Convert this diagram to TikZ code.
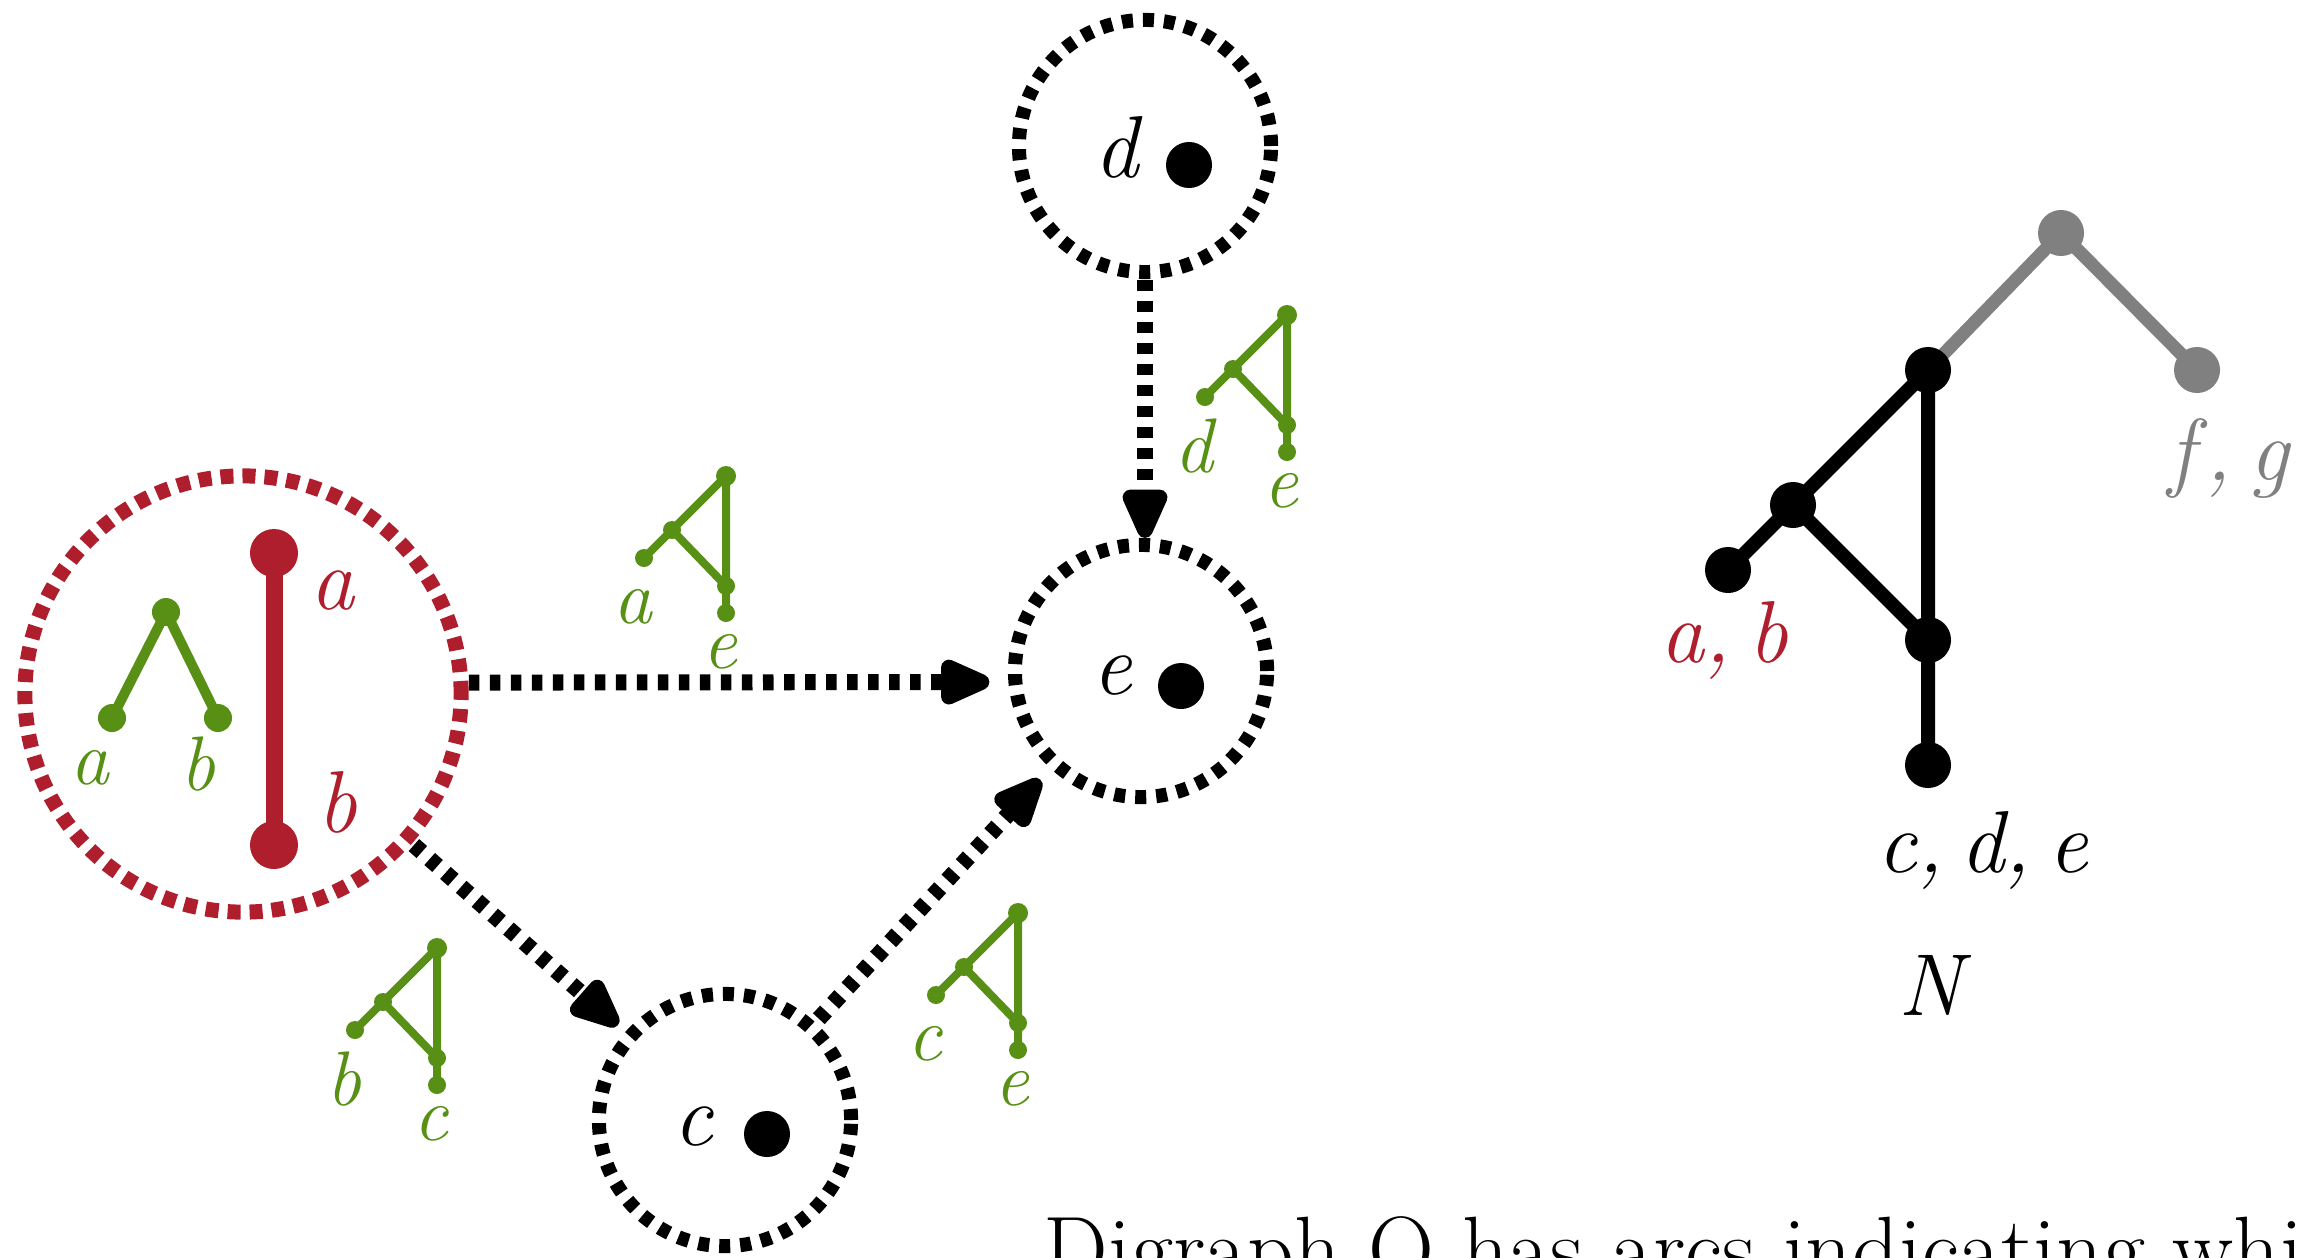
\documentclass[tikz,border=0pt]{standalone}
\usepackage{fontspec}
\usetikzlibrary{arrows.meta}
\definecolor{redc}{RGB}{174,30,45}
\definecolor{greenc}{RGB}{87,144,20}
\definecolor{grayc}{RGB}{128,128,128}

\tikzset{
  big/.style={font=\fontsize{25}{30}\selectfont\itshape, inner sep=0pt},
  small/.style={font=\fontsize{22}{26}\selectfont\itshape, inner sep=0pt, text=greenc},
  ring/.style={circle, draw=black, line width=0.14cm, dash pattern=on 0.11cm off 0.10cm,
    minimum size=2.52cm, inner sep=0pt, outer sep=0pt},
  redring/.style={ring, draw=redc, line width=0.15cm, dash pattern=on 0.13cm off 0.09cm,
    minimum size=4.36cm},
  blob/.style={circle, fill=black, inner sep=0pt, outer sep=0pt, minimum size=0.46cm},
  gdot/.style={circle, fill=greenc, inner sep=0pt, outer sep=0pt, minimum size=0.18cm},
  gline/.style={draw=greenc, line width=0.08cm},
  flow/.style={line width=0.16cm, dash pattern=on 0.105cm off 0.105cm,
    -{Triangle[length=0.62cm,width=0.48cm,round]}},
  pics/gtree/.style 2 args={code={
    \coordinate (-r) at (0,0);
    \coordinate (-m) at (-54,54);
    \coordinate (-l) at (-82,82);
    \coordinate (-v) at (0,110);
    \coordinate (-b) at (0,137);
    \draw[gline] (-l) -- (-m) -- (-r) -- (-v) -- (-b) (-m) -- (-v);
    \node[gdot, minimum size=0.2cm] (-rd) at (-r) {};
    \node[gdot] (-md) at (-m) {};
    \node[gdot] (-ld) at (-l) {};
    \node[gdot] (-vd) at (-v) {};
    \node[gdot] (-bd) at (-b) {};
    \node[small] (-ll) at (-93,131) {#1};
    \node[small] (-bl) at (-6,176) {#2};
  }}
}
\newcommand{\lsep}{,\kern0.2em}

\begin{document}
\begin{tikzpicture}[x=0.01cm,y=-0.01cm]
\clip (0,0) rectangle (2307,1257);

% the merged cluster {a,b}
\node[redring] (ab) at (243,694) {};
\coordinate (ra) at (274,553);
\coordinate (rb) at (274,845);
\draw[redc, line width=0.17cm] (ra) -- (rb);
\node[blob, fill=redc, minimum size=0.48cm] (rad) at (ra) {};
\node[blob, fill=redc, minimum size=0.48cm] (rbd) at (rb) {};
\node[big, text=redc] (ral) at (332,591) {a};
\node[big, text=redc] (rbl) at (337,802) {b};
\coordinate (gr) at (166,612);
\coordinate (ga) at (112,718);
\coordinate (gb) at (218,718);
\draw[gline, line width=0.1cm] (ga) -- (gr) -- (gb);
\node[gdot, minimum size=0.28cm] (grd) at (gr) {};
\node[gdot, minimum size=0.28cm] (gad) at (ga) {};
\node[gdot, minimum size=0.28cm] (gbd) at (gb) {};
\node[small] (gal) at (90,768) {a};
\node[small] (gbl) at (198,764) {b};

% singleton vertices
\node[ring] (d) at (1145,146) {};
\node[big] (dl) at (1116,147) {d};
\node[blob] (dd) at (1189,165) {};

\node[ring] (e) at (1141,671) {};
\node[big] (el) at (1112,676) {e};
\node[blob] (ed) at (1181,686) {};

\node[ring] (c) at (725,1120) {};
\node[big] (cl) at (693,1127) {c};
\node[blob] (cd) at (767,1134) {};

% arcs of the digraph
\draw[flow, shorten <=0.08cm, shorten >=0.26cm] (ab.3) -- (e.185);
\draw[flow, shorten <=0.08cm, shorten >=0.07cm] (d.south) -- (d.south |- e.north);
\draw[flow, shorten <=0.1cm, shorten >=0.17cm] (ab) -- (c);
\draw[flow, shorten <=0.12cm, shorten >=0.22cm] (c) -- (e);

% displayed subtrees on the arcs
\pic (tae) at (726,476) {gtree={a}{e}};
\pic (tde) at (1287,315) {gtree={d}{e}};
\pic (tbc) at (437,948) {gtree={b}{c}};
\pic (tce) at (1018,913) {gtree={c}{e}};

% network N
\coordinate (nG) at (2061,233);
\coordinate (nF) at (2197,370);
\coordinate (nT) at (1928,370);
\coordinate (nM) at (1793,505);
\coordinate (nL) at (1728,570);
\coordinate (nR) at (1928,640);
\coordinate (nB) at (1928,765);
\draw[grayc, line width=0.13cm] (nT) -- (nG) -- (nF);
\draw[line width=0.14cm] (nL) -- (nM) -- (nT) -- (nB) (nM) -- (nR);
\node[blob, fill=grayc] (nGd) at (nG) {};
\node[blob, fill=grayc] (nFd) at (nF) {};
\node[blob] (nTd) at (nT) {};
\node[blob] (nMd) at (nM) {};
\node[blob] (nLd) at (nL) {};
\node[blob] (nRd) at (nR) {};
\node[blob] (nBd) at (nB) {};
\node[big, text=redc, anchor=base] (lab) at (1724,662) {a\lsep b};
\node[big, anchor=base] (lcde) at (1983,872) {c\lsep d\lsep e};
\node[big, anchor=base] (lN) at (1930,1015) {N};
\node[big, text=grayc, anchor=base west] (lfg) at (2168,480) {f\kern0.12em\lsep g};

% caption line, running off the bottom edge
\node[big, font=\fontsize{26}{31}\selectfont\upshape, anchor=base west] (cap) at (1043,1280) {Digraph Q has arcs indicating whi};
\end{tikzpicture}
\end{document}
